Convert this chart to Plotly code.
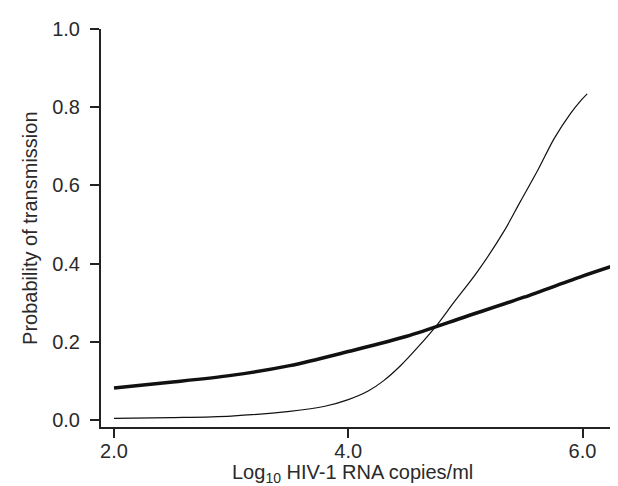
import plotly.graph_objects as go

# Data
thick_x = [2.0, 2.5, 3.0, 3.5, 4.0, 4.5, 5.0, 5.5, 6.0, 6.32]
thick_y = [0.082, 0.097, 0.114, 0.139, 0.175, 0.214, 0.264, 0.314, 0.368, 0.400]

thin_x = [2.0, 2.5, 3.0, 3.5, 3.8, 4.0, 4.17, 4.3, 4.45, 4.6, 4.76, 4.9, 5.1, 5.33, 5.47, 5.62, 5.76, 5.9, 5.98, 6.04]
thin_y = [0.004, 0.006, 0.010, 0.022, 0.035, 0.052, 0.074, 0.100, 0.140, 0.188, 0.244, 0.300, 0.378, 0.483, 0.559, 0.640, 0.721, 0.785, 0.815, 0.834]

x_ticks = [2.0, 4.0, 6.0]
x_tick_labels = ["2.0", "4.0", "6.0"]
y_ticks = [0.0, 0.2, 0.4, 0.6, 0.8, 1.0]
y_tick_labels = ["0.0", "0.2", "0.4", "0.6", "0.8", "1.0"]

x_title = "Log<sub>10</sub> HIV-1 RNA copies/ml"
y_title = "Probability of transmission"

FONT = "Liberation Sans, Arial, sans-serif"
AX = "#222222"
TXT = "#2a2a2a"
FS = 20

fig = go.Figure()
fig.add_trace(go.Scatter(x=thick_x, y=thick_y, mode="lines",
                         line=dict(color="#111111", width=3.5, shape="spline", smoothing=0.8),
                         showlegend=False, hoverinfo="skip"))
fig.add_trace(go.Scatter(x=thin_x, y=thin_y, mode="lines",
                         line=dict(color="#111111", width=1.2, shape="spline", smoothing=0.9),
                         showlegend=False, hoverinfo="skip"))

fig.update_layout(
    width=618, height=486,
    margin=dict(l=93, r=6, t=21, b=67),
    paper_bgcolor="white", plot_bgcolor="white",
    font=dict(family=FONT, size=FS, color=TXT),
    xaxis=dict(range=[1.889, 6.32], tickvals=x_ticks, ticktext=x_tick_labels,
               showline=True, linecolor=AX, linewidth=2, ticks="outside",
               ticklen=9, tickwidth=2, tickcolor=AX, showgrid=False, zeroline=False,
               tickfont=dict(size=FS), ticklabelstandoff=-4),
    yaxis=dict(range=[-0.018, 1.0], tickvals=y_ticks, ticktext=y_tick_labels,
               showline=True, linecolor=AX, linewidth=2, ticks="outside",
               ticklen=9, tickwidth=2, tickcolor=AX, showgrid=False, zeroline=False,
               tickfont=dict(size=FS), ticklabelstandoff=6),
    annotations=[
        dict(text=x_title, xref="paper", yref="paper", x=0.484, y=-0.153,
             xanchor="center", yanchor="bottom", showarrow=False,
             font=dict(size=FS, color=TXT)),
        dict(text=y_title, xref="paper", yref="paper", x=-0.137, y=0.5,
             xanchor="center", yanchor="middle", textangle=-90, showarrow=False,
             font=dict(size=FS, color=TXT)),
    ],
)

fig.write_html("out.html")
